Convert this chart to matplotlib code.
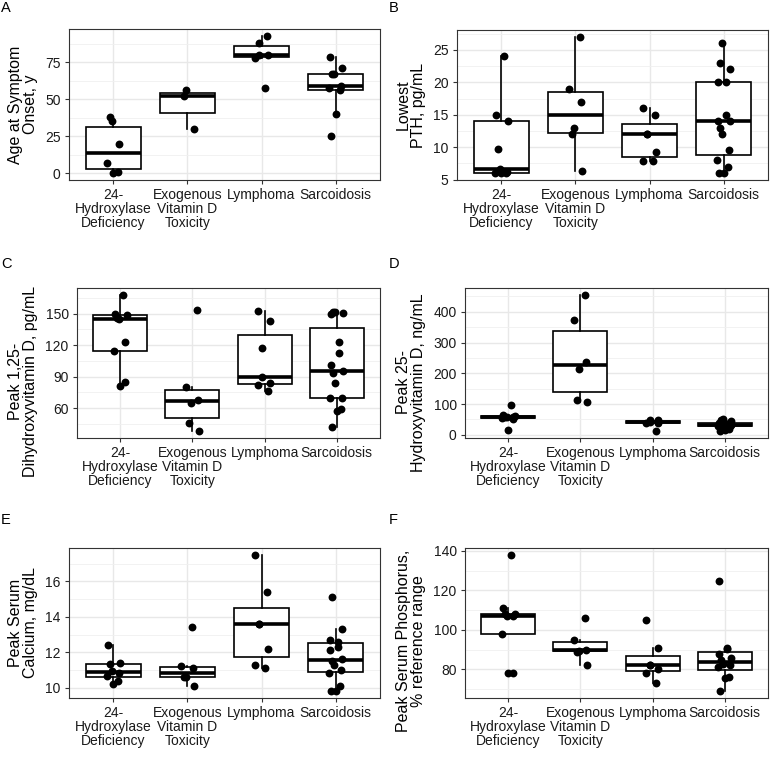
import numpy as np
import matplotlib.pyplot as plt
from matplotlib.ticker import FixedLocator

plt.rcParams['font.family'] = ['Liberation Sans', 'DejaVu Sans']

# groups on the x axis
groups = ["24-\nHydroxylase\nDeficiency", "Exogenous\nVitamin D\nToxicity",
          "Lymphoma", "Sarcoidosis"]

# values, one list per group
age_onset = [[0, 1, 7, 20, 35, 38],
             [30, 52, 56],
             [58, 78, 80, 80, 88, 93],
             [25, 40, 56, 58, 59, 67, 67, 71, 79]]
lowest_pth = [[6, 6, 6, 6.2, 6.6, 9.7, 14, 15, 24],
              [6.3, 12, 13, 17, 19, 27],
              [7.9, 7.9, 9.2, 12, 12, 15, 16],
              [6, 6, 7, 8, 9.6, 12, 13, 14, 14, 15, 20, 20, 22, 23, 26]]
peak_calcitriol = [[81, 85, 114, 123, 145, 146, 149, 150, 168],
                   [38, 46, 65, 68, 80, 154],
                   [76, 82, 84, 90, 117, 143, 153],
                   [42, 57, 59, 70, 70, 84, 93, 95, 101, 113, 123, 150, 151, 152, 152]]
peak_calcidiol = [[16, 50, 55, 57, 58, 59, 60, 66, 97],
                  [108, 113, 213, 238, 372, 455],
                  [13, 38, 40, 41, 47, 48],
                  [12, 15, 20, 28, 30, 31, 32, 33, 34, 35, 36, 38, 44, 47, 50]]
peak_calcium = [[10.2, 10.4, 10.65, 10.8, 10.95, 11.35, 11.4, 12.4],
                [10.1, 10.6, 10.6, 11.1, 11.2, 13.4],
                [11.1, 11.3, 12.2, 13.6, 13.6, 15.4, 17.5],
                [9.8, 9.8, 10.1, 10.85, 11.0, 11.3, 11.5, 11.6, 12.1, 12.3, 12.6, 12.7, 13.3, 15.1]]
peak_phosphorus = [[78, 78, 98, 107, 107, 108, 108, 111, 138],
                   [82.3, 89, 89.5, 90, 95, 106],
                   [73, 78, 80, 82, 82.5, 91, 105],
                   [69, 75.5, 76, 81, 82, 83, 85, 86, 88, 90.5, 91, 124.5]]

ylabels = ["Age at Symptom\nOnset, y", "Lowest\nPTH, pg/mL",
           "Peak 1,25-\nDihydroxyvitamin D, pg/mL", "Peak 25-\nHydroxyvitamin D, ng/mL",
           "Peak Serum\nCalcium, mg/dL", "Peak Serum Phosphorus,\n% reference range"]
yticks = [[0, 25, 50, 75], [5, 10, 15, 20, 25], [60, 90, 120, 150],
          [0, 100, 200, 300, 400], [10, 12, 14, 16], [80, 100, 120, 140]]
panel_letters = ["A", "B", "C", "D", "E", "F"]

W = 777.0
# axes boxes in pixels: left, top, right, bottom
boxes_px = [(69, 29, 380, 180), (457, 30, 768, 180),
            (77, 288, 380, 438), (465, 288, 768, 438),
            (69, 548, 380, 698), (465, 548, 768, 698)]
letter_px = [(1, 8), (389, 8), (1, 264), (389, 264), (1, 520), (389, 520)]
# vertical centre of each y label, in axes fraction (long ones sit lower)
ylabel_y = [0.5, 0.5, 0.375, 0.37, 0.5, 0.38]


def draw_panel(ax, values, ylabel, ticks, label_y):
    pos = np.arange(1, len(values) + 1)
    ax.boxplot(values, positions=pos, widths=0.75, whis=1.5, showfliers=False,
               showcaps=False, patch_artist=True,
               boxprops=dict(facecolor='white', edgecolor='black', linewidth=1.2),
               whiskerprops=dict(color='black', linewidth=1.2),
               medianprops=dict(color='black', linewidth=2.6, solid_capstyle='butt'),
               zorder=2)
    for i, vals in enumerate(values):
        jitter = 0.09 * np.sin(np.arange(len(vals)) * 2.4 + i * 1.3)
        ax.scatter(pos[i] + jitter, vals, s=32, color='black', linewidths=0, zorder=3)

    lo = min(min(v) for v in values)
    hi = max(max(v) for v in values)
    pad = 0.05 * (hi - lo)
    ax.set_ylim(lo - pad, hi + pad)
    ax.set_xlim(0.4, len(values) + 0.6)

    ax.set_yticks(ticks)
    step = ticks[1] - ticks[0]
    minors = [t - step / 2 for t in ticks] + [ticks[-1] + step / 2]
    ax.yaxis.set_minor_locator(FixedLocator(minors))
    ax.set_xticks(pos)
    ax.set_xticklabels(groups, linespacing=1.0)

    ax.set_axisbelow(True)
    ax.grid(True, which='major', color='#E8E8E8', linewidth=1.0)
    ax.grid(True, which='minor', axis='y', color='#F0F0F0', linewidth=0.6)
    for s in ax.spines.values():
        s.set_color('#333333')
        s.set_linewidth(0.8)
    ax.tick_params(which='major', length=3, width=0.8, color='#333333',
                   labelsize=10, labelcolor='#1a1a1a', pad=3)
    ax.tick_params(which='minor', length=0)
    ax.set_ylabel(ylabel, fontsize=11.5, linespacing=1.0, labelpad=5)
    # only the vertical centre is moved, x stays automatic
    ax.yaxis.label.set_y(label_y)


fig = plt.figure(figsize=(7.77, 7.77), dpi=100)
datasets = [age_onset, lowest_pth, peak_calcitriol, peak_calcidiol,
            peak_calcium, peak_phosphorus]

for k, data in enumerate(datasets):
    l, t, r, b = boxes_px[k]
    ax = fig.add_axes([l / W, 1 - b / W, (r - l) / W, (b - t) / W])
    draw_panel(ax, data, ylabels[k], yticks[k], ylabel_y[k])
    lx, ly = letter_px[k]
    fig.text(lx / W, 1 - ly / W, panel_letters[k], fontsize=10.5, va='center', ha='left')

fig.savefig("out.png", dpi=100)
